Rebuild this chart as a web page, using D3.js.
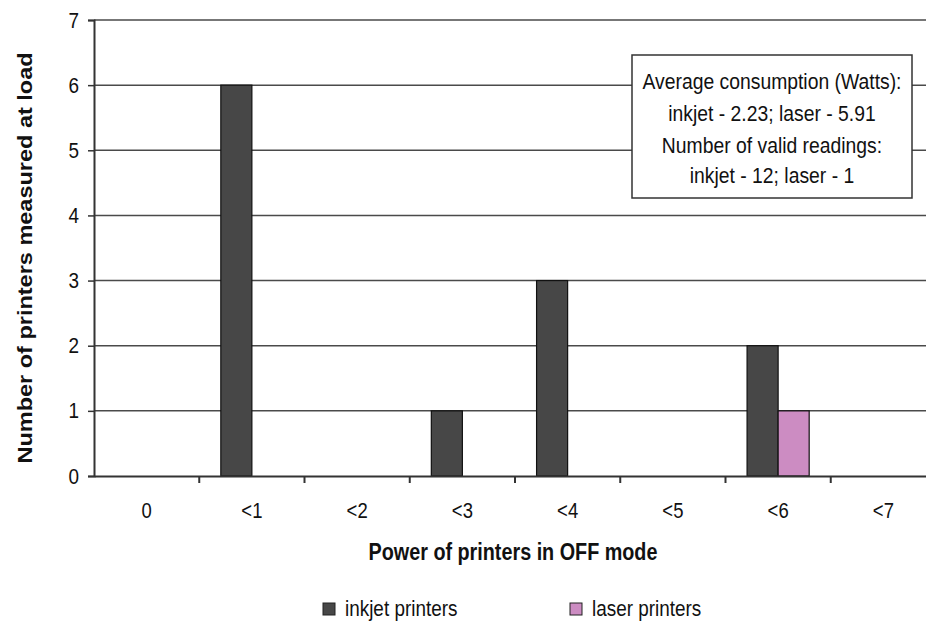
<!DOCTYPE html>
<html>
<head>
<meta charset="utf-8">
<script src="https://cdn.jsdelivr.net/npm/d3@7"></script>
<style>
  body { margin: 0; background: #fff; }
  text { font-family: "Liberation Sans", Arial, sans-serif; fill: #111; }
</style>
</head>
<body>
<div id="chart"></div>
<script>
// data
var categories = ["0", "<1", "<2", "<3", "<4", "<5", "<6", "<7"];
var inkjet = [0, 6, 0, 1, 3, 0, 2, 0];
var laser = [0, 0, 0, 0, 0, 0, 1, 0];
var yTicks = [0, 1, 2, 3, 4, 5, 6, 7];
var seriesNames = ["inkjet printers", "laser printers"];
var noteLines = [
    "Average consumption (Watts):",
    "inkjet - 2.23; laser - 5.91",
    "Number of valid readings:",
    "inkjet - 12; laser - 1"
];

var width = 926, height = 624;
var colours = ["#474747", "#cc8cc2"];
var sx = 0.86; // the source picture is squeezed sideways

var svg = d3.select("#chart").append("svg")
    .attr("width", width)
    .attr("height", height);

// plot goes past the right edge, the original was cropped
var xScale = d3.scaleBand().domain(categories).range([94, 936]);
var yScale = d3.scaleLinear().domain([0, 7]).range([476, 20]);

var barW = xScale.bandwidth() * 0.295;

function squeezed(g, x, y) {
    return g.append("text")
        .attr("transform", "translate(" + x + "," + y + ")scale(" + sx + ",1)");
}

// gridlines
svg.append("g")
    .selectAll("line")
    .data(yTicks.filter(function (d) { return d > 0; }))
    .enter().append("line")
    .attr("x1", 94)
    .attr("x2", width)
    .attr("y1", function (d) { return yScale(d); })
    .attr("y2", function (d) { return yScale(d); })
    .attr("stroke", "#4a4a4a")
    .attr("stroke-width", 1.5);

// bars
var rows = categories.map(function (c, i) { return { cat: c, vals: [inkjet[i], laser[i]] }; });

var group = svg.append("g")
    .selectAll("g")
    .data(rows)
    .enter().append("g");

group.selectAll("rect")
    .data(function (d) {
        return d.vals.map(function (v, j) { return { cat: d.cat, v: v, j: j }; })
            .filter(function (e) { return e.v > 0; });
    })
    .enter().append("rect")
    .attr("x", function (d) { return xScale(d.cat) + xScale.bandwidth() / 2 - barW + d.j * barW; })
    .attr("width", barW)
    .attr("y", function (d) { return yScale(d.v); })
    .attr("height", function (d) { return yScale(0) - yScale(d.v); })
    .attr("fill", function (d) { return colours[d.j]; })
    .attr("stroke", "#111")
    .attr("stroke-width", 1.2);

// y axis
var yAxis = d3.axisLeft(yScale).tickValues(yTicks).tickSize(6).tickFormat("");
var gy = svg.append("g")
    .attr("transform", "translate(94,0)")
    .call(yAxis);
gy.select(".domain").attr("stroke", "#333").attr("stroke-width", 2);
gy.selectAll(".tick line").attr("stroke", "#333").attr("stroke-width", 1.5);

var yLab = svg.append("g");
yTicks.forEach(function (d) {
    squeezed(yLab, 79, yScale(d) + 7.5)
        .attr("text-anchor", "end")
        .style("font-size", "22px")
        .text(d);
});

// x axis
var xAxis = d3.axisBottom(xScale).tickSize(0).tickFormat("");
var gx = svg.append("g")
    .attr("transform", "translate(0,476)")
    .call(xAxis);
gx.select(".domain").attr("stroke", "#333").attr("stroke-width", 2);

var xLab = svg.append("g");
categories.forEach(function (d) {
    squeezed(xLab, xScale(d) + xScale.bandwidth() / 2, 518)
        .attr("text-anchor", "middle")
        .style("font-size", "21.5px")
        .text(d);
});

// tick marks between categories
svg.append("g")
    .selectAll("line")
    .data(categories.slice(1))
    .enter().append("line")
    .attr("x1", function (d) { return xScale(d); })
    .attr("x2", function (d) { return xScale(d); })
    .attr("y1", 476)
    .attr("y2", 483)
    .attr("stroke", "#333")
    .attr("stroke-width", 2);

// axis titles
squeezed(svg, 513, 560)
    .attr("text-anchor", "middle")
    .style("font-size", "23px")
    .style("font-weight", "bold")
    .text("Power of printers in OFF mode");

svg.append("text")
    .attr("transform", "translate(32,258)rotate(-90)scale(1," + sx + ")")
    .attr("text-anchor", "middle")
    .style("font-size", "23.5px")
    .style("font-weight", "bold")
    .text("Number of printers measured at load");

// note box
var note = svg.append("g");
note.append("rect")
    .attr("x", 632)
    .attr("y", 55)
    .attr("width", 280)
    .attr("height", 143)
    .attr("fill", "#fff")
    .attr("stroke", "#333")
    .attr("stroke-width", 1.5);

var noteY = [89, 121, 153, 183];
noteLines.forEach(function (d, i) {
    squeezed(note, 772, noteY[i])
        .attr("text-anchor", "middle")
        .style("font-size", "22.5px")
        .text(d);
});

// legend
var legendX = [323, 570];
var legend = svg.append("g");
seriesNames.forEach(function (d, i) {
    legend.append("rect")
        .attr("x", legendX[i])
        .attr("y", 603)
        .attr("width", 12)
        .attr("height", 12)
        .attr("fill", colours[i])
        .attr("stroke", "#222")
        .attr("stroke-width", 1);
    squeezed(legend, legendX[i] + 22, 616)
        .style("font-size", "22px")
        .text(d);
});
</script>
</body>
</html>
